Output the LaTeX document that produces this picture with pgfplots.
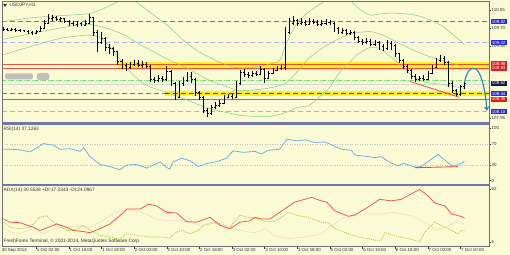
\documentclass[border=0pt]{standalone}
\usepackage{pgfplots}
\pgfplotsset{compat=1.18}
\usepackage{pgfplotstable}
\usepackage{fontspec}
\setmainfont{Liberation Sans}
\usetikzlibrary{arrows.meta}

\definecolor{bgc}{RGB}{250,250,212}
\definecolor{sepc}{RGB}{112,118,170}
\definecolor{framec}{RGB}{110,110,130}
\definecolor{bbc}{RGB}{130,205,130}
\definecolor{dashblue}{RGB}{105,105,255}
\definecolor{lav}{RGB}{175,175,230}
\definecolor{lred}{RGB}{232,80,60}
\definecolor{lgreen}{RGB}{110,220,110}
\definecolor{band}{RGB}{255,242,0}
\definecolor{boxblue}{RGB}{40,40,220}
\definecolor{boxred}{RGB}{225,30,30}
\definecolor{boxnavy}{RGB}{20,20,80}
\definecolor{rsic}{RGB}{100,170,230}
\definecolor{adxc}{RGB}{240,80,70}
\definecolor{pdic}{RGB}{154,205,50}
\definecolor{mdic}{RGB}{238,205,175}
\definecolor{arrc}{RGB}{40,130,195}
\definecolor{txtc}{RGB}{50,50,60}

\newcommand{\fs}{\fontsize{4.8bp}{5.5bp}\selectfont}
\newcommand{\fl}{\fontsize{4.4bp}{5bp}\selectfont}

\pgfdeclareplotmark{otick}{\pgfpathmoveto{\pgfqpoint{-1.4pt}{0pt}}\pgfpathlineto{\pgfqpoint{0pt}{0pt}}\pgfusepathqstroke}
\pgfdeclareplotmark{ctick}{\pgfpathmoveto{\pgfqpoint{0pt}{0pt}}\pgfpathlineto{\pgfqpoint{1.4pt}{0pt}}\pgfusepathqstroke}

\pgfplotstableread{
i o h l c
0 109.70 109.72 109.65 109.68
1 109.68 109.70 109.64 109.66
2 109.66 109.69 109.64 109.67
3 109.67 109.69 109.63 109.65
4 109.65 109.68 109.63 109.66
5 109.66 109.67 109.62 109.64
6 109.64 109.66 109.59 109.62
7 109.62 109.64 109.57 109.60
8 109.60 109.66 109.58 109.64
9 109.64 109.74 109.62 109.70
10 109.70 109.85 109.68 109.80
11 109.80 109.97 109.78 109.88
12 109.88 109.95 109.84 109.90
13 109.90 109.93 109.83 109.86
14 109.86 109.92 109.82 109.88
15 109.88 109.90 109.80 109.84
16 109.84 109.86 109.74 109.79
17 109.79 109.83 109.74 109.78
18 109.78 109.84 109.72 109.80
19 109.80 109.82 109.73 109.76
20 109.76 109.86 109.74 109.80
21 109.80 109.98 109.78 109.90
22 109.90 109.92 109.55 109.62
23 109.62 109.66 109.24 109.42
24 109.42 109.62 109.38 109.50
25 109.50 109.52 109.25 109.32
26 109.32 109.38 109.20 109.30
27 109.30 109.33 109.15 109.24
28 109.24 109.26 108.98 109.06
29 109.06 109.10 108.90 108.98
30 108.98 109.02 108.86 108.94
31 108.94 109.04 108.90 109.00
32 109.00 109.08 108.96 109.02
33 109.02 109.07 108.94 108.98
34 108.98 109.05 108.93 109.00
35 109.00 109.04 108.92 108.96
36 108.96 108.98 108.64 108.70
37 108.70 108.75 108.63 108.68
38 108.68 108.78 108.64 108.72
39 108.72 108.76 108.65 108.70
40 108.70 108.96 108.66 108.86
41 108.86 108.88 108.58 108.62
42 108.62 108.64 108.30 108.36
43 108.36 108.66 108.34 108.62
44 108.62 108.74 108.58 108.68
45 108.68 108.85 108.64 108.76
46 108.76 108.84 108.62 108.70
47 108.70 108.72 108.38 108.44
48 108.44 108.48 108.30 108.36
49 108.36 108.38 108.04 108.10
50 108.10 108.14 107.97 108.04
51 108.04 108.20 108.00 108.15
52 108.15 108.26 108.12 108.20
53 108.20 108.30 108.16 108.24
54 108.24 108.40 108.22 108.36
55 108.36 108.42 108.33 108.38
56 108.38 108.42 108.32 108.36
57 108.36 108.66 108.34 108.62
58 108.62 108.88 108.60 108.84
59 108.84 108.90 108.74 108.80
60 108.80 108.84 108.72 108.78
61 108.78 108.86 108.75 108.82
62 108.82 108.86 108.76 108.80
63 108.80 108.96 108.78 108.90
64 108.90 108.92 108.63 108.72
65 108.72 108.86 108.70 108.82
66 108.82 108.92 108.80 108.88
67 108.88 108.96 108.86 108.92
68 108.92 108.97 108.88 108.93
69 108.93 109.72 108.88 109.62
70 109.62 109.89 109.58 109.80
71 109.80 109.93 109.76 109.85
72 109.85 109.88 109.74 109.80
73 109.80 109.90 109.76 109.82
74 109.82 109.86 109.74 109.78
75 109.78 109.90 109.76 109.84
76 109.84 109.88 109.77 109.82
77 109.82 109.86 109.74 109.78
78 109.78 109.86 109.74 109.80
79 109.80 109.88 109.76 109.82
80 109.82 109.86 109.76 109.80
81 109.80 109.82 109.62 109.70
82 109.70 109.72 109.58 109.62
83 109.62 109.70 109.59 109.65
84 109.65 109.68 109.56 109.60
85 109.60 109.66 109.56 109.62
86 109.62 109.64 109.46 109.52
87 109.52 109.55 109.40 109.45
88 109.45 109.48 109.37 109.42
89 109.42 109.50 109.38 109.45
90 109.45 109.48 109.34 109.38
91 109.38 109.46 109.35 109.42
92 109.42 109.44 109.28 109.35
93 109.35 109.38 109.25 109.30
94 109.30 109.47 109.28 109.40
95 109.40 109.44 109.28 109.36
96 109.36 109.38 109.14 109.20
97 109.20 109.22 109.02 109.08
98 109.08 109.10 108.90 108.96
99 108.96 109.00 108.82 108.88
100 108.88 108.90 108.70 108.76
101 108.76 108.80 108.65 108.70
102 108.70 108.76 108.66 108.72
103 108.72 108.78 108.66 108.70
104 108.70 108.86 108.68 108.82
105 108.82 108.98 108.80 108.94
106 108.94 109.12 108.92 109.08
107 109.08 109.18 109.04 109.12
108 109.12 109.16 108.98 109.04
109 109.04 109.06 108.55 108.62
110 108.62 108.66 108.44 108.48
111 108.48 108.52 108.36 108.42
112 108.42 108.60 108.38 108.56
113 108.56 108.66 108.52 108.62
}\ohlc

\pgfplotstableread{
i v
0 109.82
5 109.88
10 109.92
16 109.95
21 109.98
24 110.06
27 110.17
30 110.26
32.4 110.21
35 110.06
38 109.88
40.5 109.73
43.8 109.48
47 109.28
50 109.15
53 109.03
56 108.95
58.5 108.92
62 108.95
65 108.99
67.8 109.08
69 109.34
71.9 109.79
75.1 110.03
79.2 110.24
82 110.32
85.3 110.21
87.5 110.05
89.8 109.95
92 109.97
95 109.99
99 109.97
102 109.93
105 109.84
107.7 109.73
110 109.58
113 109.38
}\bbup

\pgfplotstableread{
i v
0 109.48
6 109.58
12 109.67
17 109.74
21 109.77
24 109.72
27 109.65
30 109.55
33 109.40
36 109.27
40 109.10
45 108.92
50 108.70
55 108.55
58 108.48
62 108.50
65 108.53
69 108.62
72 108.85
75 109.12
78 109.30
80 109.40
83 109.52
86 109.60
89.8 109.63
93 109.56
96.3 109.43
100.4 109.27
104.5 109.14
108.5 109.05
113 108.94
}\bbmid

\pgfplotstableread{
i v
0 109.18
8 109.37
14 109.50
19 109.55
21 109.56
24 109.50
27 109.25
30 108.94
33 108.70
36 108.55
40 108.45
45 108.30
50 108.14
55 108.05
58 108.00
62 107.98
65.3 107.98
69 108.05
72 108.15
75 108.20
78 108.40
80 108.55
82.5 108.85
85 109.05
87 109.20
89.8 109.32
92.2 109.30
95.5 109.10
98 108.92
100.4 108.76
102.8 108.66
105.5 108.62
108.5 108.59
112.6 108.53
113 108.52
}\bblow

\pgfplotstableread{
i v
0 60
1.6 60
4.0 59
6.5 55
8 62
9.8 71
11 69
12.2 68
13.8 60
16.3 61
18.8 56
19.6 63
21.2 46
23.6 31
26.1 27
28.5 21
30.2 30
32.6 31
35.1 24
38.4 36
40.0 25
40.8 22.6
41.6 36
43.7 43
45.7 38
47.8 27
49.8 33
52.2 36
54.7 43
56.3 57
58.8 54
61.6 56
63.2 51
64.9 58
67.7 60
69.4 79
72.2 76
73.9 78
76.3 73
78.8 74
82.8 60
85.3 58
86.1 49
89.4 46
91.0 44
92.6 46
94.3 36.5
96.7 28.4
98.0 33
100.8 26
102.4 27
106.5 50
109.8 29
111.4 30
112.4 34
113 37.1
}\rsi

\pgfplotstableread{
i v
0 30
1.6 26.5
4.0 26
7.3 21
8.9 17.7
11.0 21
13.0 24.7
15.5 21
17.1 17.7
19.2 16.7
21.2 15.3
23.6 19.5
26.1 24.7
28.5 33.5
30.2 40.5
33.5 40.5
35.5 45.8
37.5 44
40.0 37
42.4 36.3
44.9 27.2
47.3 26.5
50.6 31.7
53.1 23
55.5 19.5
58.0 26.5
60.4 28
61.6 31.7
63.2 30
65.3 30
67.7 37
71.4 48
75.5 53
77.9 49.3
79.2 48
81.2 38.8
84.5 32.8
86.1 34.2
88.6 40.5
92.2 51
95.1 49.3
97.5 51
102.0 61.6
104.1 54.6
105.7 47
108.2 44
109.8 35.3
111.4 33.5
112.4 32.5
113 30.6
}\adx

\pgfplotstableread{
i v
0 26.5
1.6 21
4.0 19.5
6.5 21
8.9 31.7
10.6 33.5
12.2 26.5
15.5 17.7
17.1 17.7
19.6 23
21.2 17.7
23.6 12.5
26.1 10.7
28.5 8.2
30.2 14.2
33.5 11.8
35.9 10.7
38.4 10.7
40.8 9.7
42.4 16
43.7 17.7
45.7 14.2
47.8 17.7
49.0 23
52.2 26.5
55.5 21
58.0 34.2
59.6 31.7
61.6 31
64.1 27.2
66.5 27.2
69.8 37
72.2 33.5
74.7 31.7
77.9 26.5
79.6 25.8
81.2 19.5
84.5 14.2
86.9 10.7
89.4 9
91.0 7.2
92.6 7.2
93.5 15.3
95.9 11.8
99.2 9
102.0 5.7
103.3 16
105.7 26.5
107.4 23
109.8 17.7
111.4 14.2
112.4 17.7
113 17.2
}\pdi

\pgfplotstableread{
i v
0 21
1.6 16
4.0 14.2
7.3 19.5
9.8 14.2
12.2 19.5
15.5 21
18.0 23
19.6 21
21.2 21
23.6 26.5
26.1 33.5
28.5 38.8
31.8 38.8
35.1 35.3
37.5 30
40.0 28
43.3 28
45.7 26.5
48.2 23
51.4 26.5
54.7 21
58.0 17.7
61.6 15
64.1 19.5
66.5 11.8
69.8 9
73.9 10.7
77.9 14.2
80.4 23
82.8 30
86.1 33.5
89.4 35.3
92.6 35.3
95.1 37
97.5 35.3
100.0 33.5
102.4 28
104.1 24.7
105.7 17.7
108.2 21
110.6 26.5
112.4 25.4
113 24.1
}\mdi

\pgfplotsset{panel/.style={scale only axis, hide axis, xmin=-0.37, xmax=119,
  clip mode=individual, anchor=south west, width=487bp}}

\tikzset{
  plain/.style={anchor=west, inner sep=0pt, text=txtc, font=\fl, xshift=2.5bp},
  boxl/.style={anchor=west, inner sep=0.5bp, text=white, font=\fl, xshift=1.5bp, minimum width=16bp, minimum height=5.2bp},
  tl/.style={anchor=west, inner sep=0pt, font=\fl, text=txtc, yshift=-3.6bp, xshift=0.6bp},
  tk/.style={txtc, line width=0.4bp},
}
\newcommand{\stick}[1]{\draw[tk] (axis cs:119,#1) -- ([xshift=2bp]axis cs:119,#1);}
\newcommand{\ttick}[1]{\draw[tk] (axis cs:#1,0.5) -- ([yshift=-2bp]axis cs:#1,0.5);}

\begin{document}
\begin{tikzpicture}
\fill[bgc] (0,0) rectangle (510bp,255bp);

% ---------------- main price panel
\begin{axis}[panel, at={(2bp,132.5bp)}, height=121bp, ymin=107.861, ymax=110.215]
\fill[band, opacity=0.9] (axis cs:28.1,108.885) rectangle (axis cs:119,109.035);
\fill[band, opacity=0.9] (axis cs:39.6,108.375) rectangle (axis cs:119,108.47);
\addplot[draw=dashblue, line width=1bp, dash pattern=on 5bp off 3bp] coordinates {(-0.37,109.82) (119,109.82)};
\addplot[draw=lav, line width=1.2bp, dash pattern=on 5bp off 3bp] coordinates {(-0.37,109.415) (119,109.415)};
\addplot[draw=lav, line width=1.2bp, dash pattern=on 5bp off 3bp] coordinates {(-0.37,108.07) (119,108.07)};
\addplot[draw=lred, line width=0.6bp] coordinates {(-0.37,109.00) (119,109.00)};
\addplot[draw=lred, line width=0.6bp] coordinates {(-0.37,108.925) (119,108.925)};
\addplot[draw=lgreen, line width=0.6bp, dash pattern=on 4bp off 1.5bp on 1bp off 1.5bp] coordinates {(-0.37,108.69) (119,108.69)};
\addplot[draw=black!15, line width=0.5bp] coordinates {(-0.37,108.60) (119,108.60)};
\addplot[draw=dashblue, line width=1bp, dash pattern=on 5bp off 3bp] coordinates {(-0.37,108.42) (39.6,108.42)};
\addplot[draw=black!75, line width=0.8bp, dash pattern=on 5bp off 3bp] coordinates {(39.6,108.42) (119,108.42)};
\addplot[draw=lred, line width=0.6bp] coordinates {(-0.37,108.31) (119,108.31)};
\addplot[draw=bbc, line width=0.5bp, smooth] table[x=i, y=v] {\bbup};
\addplot[draw=bbc, line width=0.5bp, smooth] table[x=i, y=v] {\bbmid};
\addplot[draw=bbc, line width=0.5bp, smooth] table[x=i, y=v] {\bblow};
\addplot[draw=none, mark=none, error bars/.cd, y dir=plus, y explicit,
  error mark=none, error bar style={draw=black, line width=0.5bp, solid}]
  table[x=i, y=l, y error expr=\thisrow{h}-\thisrow{l}] {\ohlc};
\addplot[draw=none, mark=otick, mark options={draw=black, line width=0.5bp}] table[x=i, y=o] {\ohlc};
\addplot[draw=none, mark=ctick, mark options={draw=black, line width=0.5bp}] table[x=i, y=c] {\ohlc};
\addplot[draw=lred, line width=0.8bp] coordinates {(99.6,108.66) (111.8,108.35)};
\draw[arrc, line width=1.1bp, -{Straight Barb[length=3bp, width=4bp]}]
  (axis cs:113,108.64) .. controls (axis cs:113.8,109.02) and (axis cs:117.4,109.15) .. (axis cs:118.5,108.09);
\fill[black!25, rounded corners=1.5bp] (axis cs:0.4,108.70) rectangle (axis cs:7.2,108.815);
\fill[black!25, rounded corners=1.5bp] (axis cs:8.2,108.685) rectangle (axis cs:11.2,108.82);
\stick{110.05}
\node[plain] at (axis cs:119,110.05) {110.05};
\node[boxl, fill=boxblue] at (axis cs:119,109.82) {109.82};
\stick{109.70}
\node[plain] at (axis cs:119,109.70) {109.70};
\node[boxl, fill=boxblue] at (axis cs:119,109.415) {109.42};
\stick{109.34}
\node[plain] at (axis cs:119,109.34) {109.38};
\node[boxl, fill=boxred] at (axis cs:119,109.00) {108.98};
\node[boxl, fill=boxred] at (axis cs:119,108.92) {108.93};
\node[boxl, fill=boxnavy] at (axis cs:119,108.62) {108.62};
\node[boxl, fill=boxblue] at (axis cs:119,108.42) {108.44};
\node[boxl, fill=boxred] at (axis cs:119,108.31) {108.30};
\node[boxl, fill=boxblue] at (axis cs:119,108.07) {108.10};
\stick{107.94}
\node[plain] at (axis cs:119,107.94) {107.95};
\end{axis}

% ---------------- RSI panel
\begin{axis}[panel, at={(2bp,71bp)}, height=59bp, ymin=-6.3, ymax=106.3]
\addplot[draw=black!25, line width=0.5bp, dash pattern=on 1bp off 1.5bp] coordinates {(-0.37,70) (119,70)};
\addplot[draw=black!25, line width=0.5bp, dash pattern=on 1bp off 1.5bp] coordinates {(-0.37,30) (119,30)};
\addplot[draw=rsic, line width=0.7bp] table[x=i, y=v] {\rsi};
\addplot[draw=lred, line width=0.9bp] coordinates {(100.8,24.8) (111.4,26.8)};
\stick{100}
\node[plain] at (axis cs:119,100) {100};
\stick{70}
\node[plain] at (axis cs:119,70) {70};
\stick{30}
\node[plain] at (axis cs:119,30) {30};
\stick{0}
\node[plain] at (axis cs:119,0) {0};
\end{axis}

% ---------------- ADX panel
\begin{axis}[panel, at={(2bp,8.5bp)}, height=60bp, ymin=0.5, ymax=64.7]
\addplot[draw=mdic, line width=0.7bp, dash pattern=on 1bp off 1bp] table[x=i, y=v] {\mdi};
\addplot[draw=pdic, line width=0.7bp, dash pattern=on 1bp off 1bp] table[x=i, y=v] {\pdi};
\addplot[draw=adxc, line width=0.75bp] table[x=i, y=v] {\adx};
\stick{62}
\node[plain] at (axis cs:119,62) {62};
\stick{5}
\node[plain] at (axis cs:119,5) {5};
\ttick{8}\ttick{16}\ttick{24}\ttick{32}\ttick{40}\ttick{48}\ttick{56}
\ttick{64}\ttick{72}\ttick{80}\ttick{88}\ttick{96}\ttick{104}\ttick{112}
\node[tl] at (axis cs:-0.6,0.5) {30 Sep 2014};
\node[tl] at (axis cs:8,0.5) {1 Oct 02:00};
\node[tl] at (axis cs:16,0.5) {1 Oct 10:00};
\node[tl] at (axis cs:24,0.5) {1 Oct 18:00};
\node[tl] at (axis cs:32,0.5) {2 Oct 02:00};
\node[tl] at (axis cs:40,0.5) {2 Oct 10:00};
\node[tl] at (axis cs:48,0.5) {2 Oct 18:00};
\node[tl] at (axis cs:56,0.5) {3 Oct 02:00};
\node[tl] at (axis cs:64,0.5) {3 Oct 10:00};
\node[tl] at (axis cs:72,0.5) {3 Oct 18:00};
\node[tl] at (axis cs:80,0.5) {6 Oct 02:00};
\node[tl] at (axis cs:88,0.5) {6 Oct 10:00};
\node[tl] at (axis cs:96,0.5) {6 Oct 18:00};
\node[tl] at (axis cs:104,0.5) {7 Oct 02:00};
\node[tl] at (axis cs:112,0.5) {7 Oct 10:00};
\end{axis}

\draw[framec, line width=0.6bp] (2bp,8.5bp) rectangle (489bp,253.5bp);
\draw[sepc, line width=2.5bp] (2bp,131.3bp) -- (489bp,131.3bp);
\draw[sepc, line width=2.5bp] (2bp,69.8bp) -- (489bp,69.8bp);

\fill[txtc] (3bp,251bp) -- (7bp,251bp) -- (5bp,248bp) -- cycle;
\node[anchor=west, inner sep=0pt, font=\fs, text=txtc] at (9.5bp,249.7bp) {USDJPY,H1};
\node[anchor=west, inner sep=0pt, font=\fs, text=txtc] at (3.5bp,126bp) {RSI(14) 37.1263};
\node[anchor=west, inner sep=0pt, font=\fs, text=txtc] at (3.5bp,64.5bp) {ADX(14) 30.5538 +DI:17.2343 -DI:24.0967};
\node[anchor=west, inner sep=0pt, font=\fs, text=txtc] at (3.5bp,13.3bp) {FreshForex Terminal, © 2001-2014, MetaQuotes Software Corp.};
\end{tikzpicture}
\end{document}
